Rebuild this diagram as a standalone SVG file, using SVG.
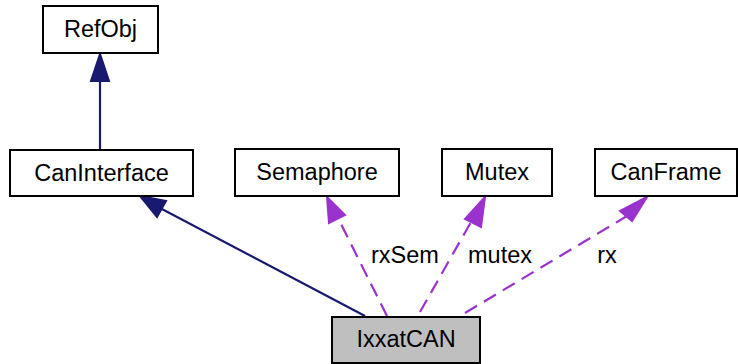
<svg xmlns="http://www.w3.org/2000/svg" width="738" height="364" viewBox="0 0 738 364">
<style>
.box{fill:#fff;stroke:#000;stroke-width:2}
.cur{fill:#bfbfbf;stroke:#000;stroke-width:2}
text{font-family:"Liberation Sans",Arial,sans-serif;font-size:23.5px;fill:#000;text-anchor:middle}
.inh{stroke:#191970;stroke-width:2.2;fill:none}
.inhh{fill:#191970;stroke:#191970;stroke-width:2}
.use{stroke:#9a32cd;stroke-width:2.2;fill:none;stroke-dasharray:14,8}
.useh{fill:#9a32cd;stroke:#9a32cd;stroke-width:2}
</style>
<rect width="738" height="364" fill="#fff"/>
<g id="connectors">
<path class="inh" d="M100,150 L100,80"/>
<polygon class="inhh" points="100,54 91,81 109,81"/>
<path class="inh" d="M365,316 L160,208"/>
<polygon class="inhh" points="140,196 166,201 157,217"/>
<path class="use" d="M387,316 L339,220"/>
<polygon class="useh" points="327,197 329,223 345,215"/>
<path class="use" d="M420,312 L471,222"/>
<polygon class="useh" points="485,197 465,219 481,227"/>
<path class="use" d="M465,313 L627,216"/>
<polygon class="useh" points="647,197 620,211 632,221"/>
<text x="405" y="263">rxSem</text>
<text x="500" y="263">mutex</text>
<text x="607" y="263">rx</text>
</g>
<g id="RefObj"><rect class="box" x="43" y="6" width="115" height="47"/><text x="100.5" y="37">RefObj</text></g>
<g id="CanInterface"><rect class="box" x="10" y="150" width="183" height="46"/><text x="101.5" y="181">CanInterface</text></g>
<g id="Semaphore"><rect class="box" x="235" y="149" width="164" height="47"/><text x="317" y="180">Semaphore</text></g>
<g id="Mutex"><rect class="box" x="442" y="149" width="110" height="47"/><text x="497" y="180">Mutex</text></g>
<g id="CanFrame"><rect class="box" x="595" y="149" width="142" height="47"/><text x="666" y="180">CanFrame</text></g>
<g id="IxxatCAN"><rect class="cur" x="332" y="317" width="148" height="46"/><text x="406" y="347">IxxatCAN</text></g>
</svg>
